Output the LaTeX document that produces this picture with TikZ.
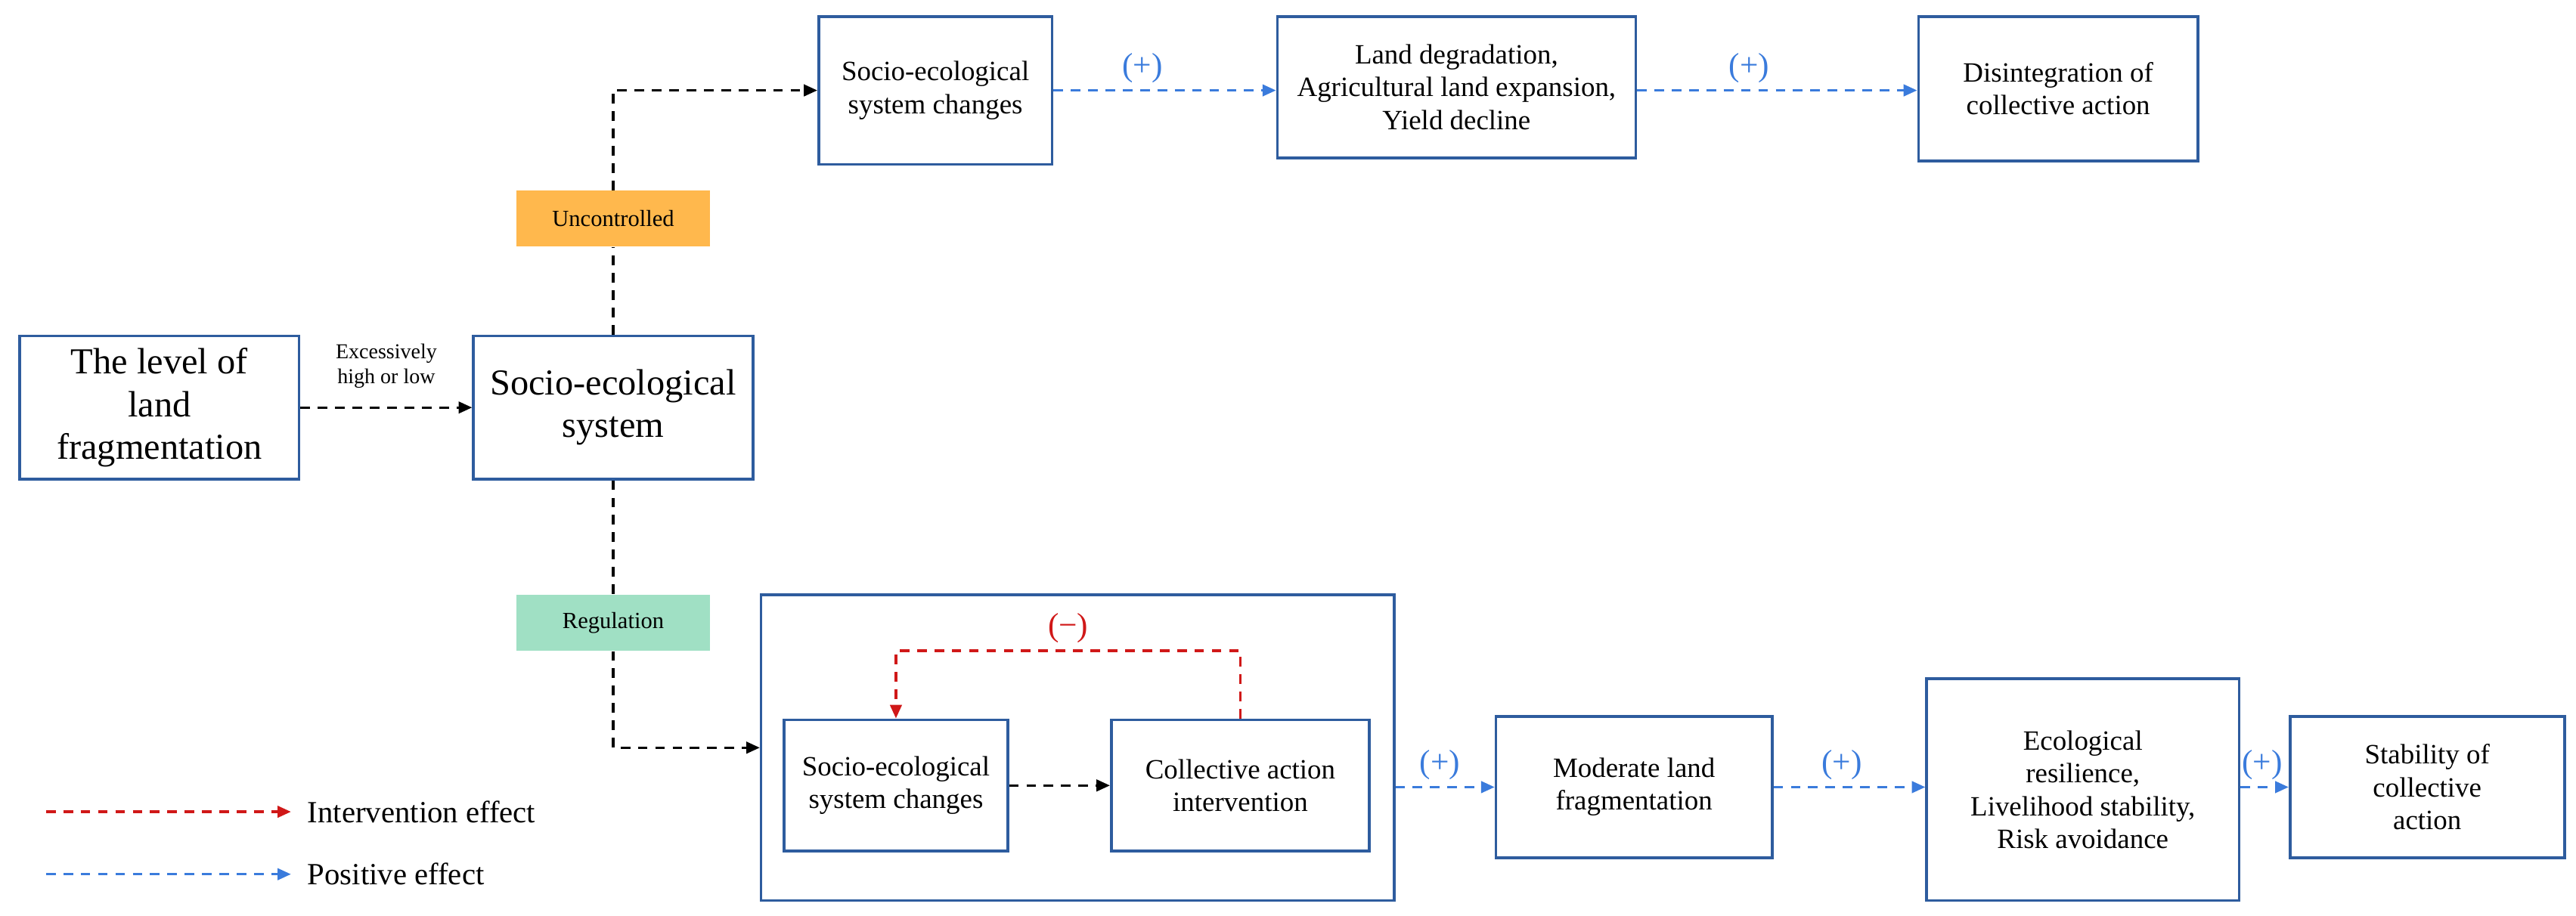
\documentclass[tikz,border=0pt]{standalone}
\usepackage{fontspec}
\setmainfont{Liberation Serif}
\usetikzlibrary{arrows.meta}
\begin{document}
\begin{tikzpicture}[x=0.03cm,y=-0.03cm,
  box/.style={draw=boxc,line width=1.4pt,align=center,inner sep=2pt,font=\fontsize{14.5}{17}\selectfont},
  bd/.style={dashed,line width=1.3pt,dash pattern=on 5pt off 4pt,-{Triangle[length=7pt,width=6pt]}},
  blk/.style={bd,black},
  blu/.style={bd,bluec},
  red/.style={bd,redc},
  plus/.style={text=bluec,font=\fontsize{17}{19}\selectfont}]
\definecolor{boxc}{HTML}{2E5C9E}
\definecolor{bluec}{HTML}{3A7BDC}
\definecolor{redc}{HTML}{D01818}
\definecolor{orc}{HTML}{FFB84D}
\definecolor{grc}{HTML}{A0E0C4}
\useasboundingbox (0,0) rectangle (1567,557);
\node[box,minimum width=170*0.03cm,minimum height=87*0.03cm,font=\fontsize{19}{22}\selectfont] (lvl) at (97,248) {The level of\\land\\fragmentation};
\node[box,minimum width=170*0.03cm,minimum height=87*0.03cm,font=\fontsize{19}{22}\selectfont] (ses) at (373,248) {Socio-ecological\\system};
\node[box,minimum width=142*0.03cm,minimum height=90*0.03cm] (t1) at (569,55) {Socio-ecological\\system changes};
\node[box,minimum width=218*0.03cm,minimum height=86*0.03cm] (t2) at (886,53) {Land degradation,\\Agricultural land expansion,\\Yield decline};
\node[box,minimum width=170*0.03cm,minimum height=88*0.03cm] (t3) at (1252,54) {Disintegration of\\collective action};
\node[fill=orc,minimum width=118*0.03cm,minimum height=34*0.03cm,font=\fontsize{12}{14}\selectfont] (unc) at (373,133) {Uncontrolled};
\node[fill=grc,minimum width=118*0.03cm,minimum height=34*0.03cm,font=\fontsize{12}{14}\selectfont] (reg) at (373,379) {Regulation};
\node[box,minimum width=385*0.03cm,minimum height=186*0.03cm] (big) at (655.5,455) {};
\node[box,minimum width=136*0.03cm,minimum height=80*0.03cm] (i1) at (545,478) {Socio-ecological\\system changes};
\node[box,minimum width=157*0.03cm,minimum height=80*0.03cm] (i2) at (754.5,478) {Collective action\\intervention};
\node[box,minimum width=168*0.03cm,minimum height=86*0.03cm] (b1) at (994,479) {Moderate land\\fragmentation};
\node[box,minimum width=190*0.03cm,minimum height=135*0.03cm] (b2) at (1267,480.5) {Ecological\\resilience,\\Livelihood stability,\\Risk avoidance};
\node[box,minimum width=167*0.03cm,minimum height=86*0.03cm] (b3) at (1476.5,479) {Stability of\\collective\\action};
% connectors
\draw[blk] (lvl.east) -- node[above=6pt,align=center,font=\fontsize{11}{13}\selectfont]{Excessively\\high or low} (ses.west);
\draw[black,dashed,line width=1.3pt,dash pattern=on 5pt off 4pt] (ses.north) -- (unc.south);
\draw[blk] (unc.north) |- (t1.west);
\draw[black,dashed,line width=1.3pt,dash pattern=on 5pt off 4pt] (ses.south) -- (reg.north);
\draw[blk] (reg.south) |- (big.west |- 0,455);
\draw[blu] (t1.east) -- node[plus,above,pos=0.4]{(+)} (t2.west |- t1.east);
\draw[blu] (t2.east |- t1.east) -- node[plus,above,pos=0.4]{(+)} (t3.west |- t1.east);
\draw[blk] (i1.east) -- (i2.west);
\draw[red] (i2.north) |- node[pos=0.75,above,text=redc,font=\fontsize{17}{19}\selectfont]{(−)} (545,396) -- (i1.north);
\draw[blu] (big.east |- b1.west) -- node[plus,above,pos=0.45]{(+)} (b1.west);
\draw[blu] (b1.east) -- node[plus,above,pos=0.45]{(+)} (b2.west |- b1.west);
\draw[blu] (b2.east |- b3.west) -- node[plus,above,pos=0.45]{(+)} (b3.west);
% legend
\coordinate (l1a) at (28,494); \coordinate (l1b) at (177,494);
\coordinate (l2a) at (28,532); \coordinate (l2b) at (177,532);
\draw[red] (l1a) -- (l1b);
\draw[blu] (l2a) -- (l2b);
\node[anchor=west,font=\fontsize{16}{18}\selectfont] (lt1) at (183,494) {Intervention effect};
\node[anchor=west,font=\fontsize{16}{18}\selectfont] (lt2) at (183,532) {Positive effect};
\end{tikzpicture}
\end{document}
